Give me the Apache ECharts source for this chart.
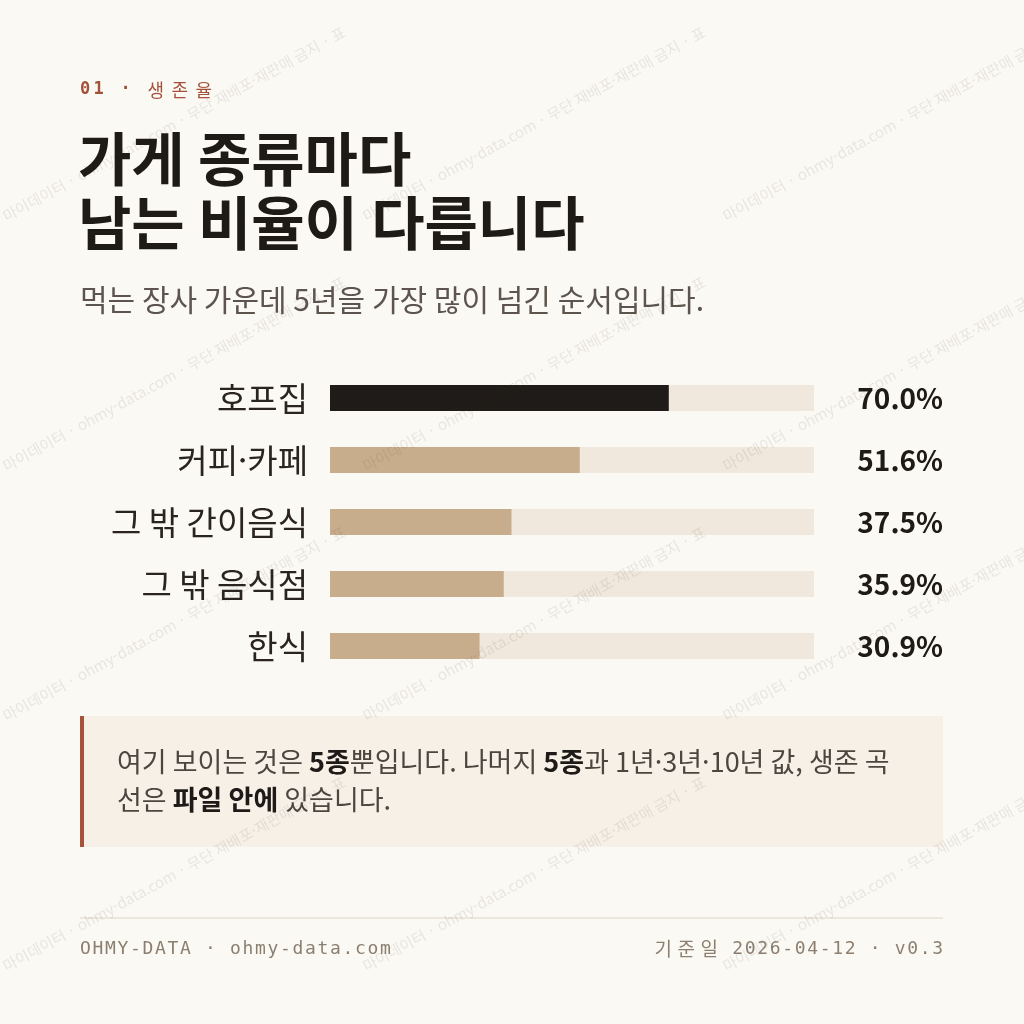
<!DOCTYPE html>
<html lang="ko">
<head>
<meta charset="utf-8">
<title>가게 종류마다 남는 비율이 다릅니다</title>
<script src="https://cdn.jsdelivr.net/npm/echarts@6/dist/echarts.min.js"></script>
<style>
  html, body { margin: 0; padding: 0; background: #fbf9f4; }
  #chart { width: 1024px; height: 1024px; }
</style>
</head>
<body>
<div id="chart"></div>
<script>
const categories = ['호프집', '커피·카페', '그 밖 간이음식', '그 밖 음식점', '한식'];
const survival5y = [70.0, 51.6, 37.5, 35.9, 30.9];
const valueLabels = survival5y.map((v) => v.toFixed(1) + '%');
const highlightCategory = '호프집';

const kicker = '01 · 생존율';
const titleLines = ['가게 종류마다', '남는 비율이 다릅니다'];
const subtitle = '먹는 장사 가운데 5년을 가장 많이 넘긴 순서입니다.';
const footerLeft = 'OHMY-DATA · ohmy-data.com';
const footerRight = '기준일 2026-04-12 · v0.3';
const watermarkText = '마이데이터 · ohmy-data.com · 무단 재배포·재판매 금지 · 표';

const sans = "'Noto Sans CJK KR', 'Noto Sans', sans-serif";
const mono = "'DejaVu Sans Mono', monospace";
const ink = '#1e1a17';

// one rich segment per character, so mono text keeps its letter spacing
const spaced = (str, latinKey, hangulKey) => Array.from(str)
    .map((ch) => `{${/[\uAC00-\uD7A3]/.test(ch) ? hangulKey : latinKey}|${ch}}`)
    .join('');

const watermarks = [];
for (let i = 0; i < 3; i++) {
    for (let j = -1; j < 5; j++) {
        watermarks.push({
            type: 'text',
            x: 360 * i + 4,
            y: 217 + 250 * j,
            rotation: Math.atan2(197, 360),
            silent: true,
            z: 100,
            style: {
                text: watermarkText,
                fill: 'rgba(70, 60, 50, 0.10)',
                fontSize: 15,
                fontFamily: sans,
                textVerticalAlign: 'middle',
            },
        });
    }
}

const chart = echarts.init(document.getElementById('chart'), null, { renderer: 'canvas' });

chart.setOption({
    backgroundColor: '#fbf9f4',
    animation: false,
    grid: { left: 330, right: 210, top: 367, height: 310 },
    xAxis: { type: 'value', min: 0, max: 100, show: false },
    yAxis: [
        {
            type: 'category',
            data: categories,
            inverse: true,
            axisLine: { show: false },
            axisTick: { show: false },
            axisLabel: { margin: 22, fontSize: 33, color: '#2a2420', fontFamily: sans },
        },
        {
            type: 'category',
            data: valueLabels,
            inverse: true,
            position: 'right',
            axisLine: { show: false },
            axisTick: { show: false },
            axisLabel: {
                margin: 129, align: 'right', fontSize: 28, fontWeight: 'bold',
                color: ink, fontFamily: sans,
            },
        },
    ],
    series: [{
        type: 'bar',
        yAxisIndex: 0,
        barWidth: 26,
        showBackground: true,
        backgroundStyle: { color: '#f0e8dc' },
        data: survival5y.map((v, i) => ({
            value: v,
            itemStyle: { color: categories[i] === highlightCategory ? '#1f1b18' : '#c8ad8c' },
        })),
    }],
    graphic: [
        {
            type: 'text', x: 80, y: 90,
            style: {
                text: spaced(kicker, 'k', 'kh'),
                textVerticalAlign: 'middle',
                rich: {
                    k: { fontFamily: mono, fontSize: 17, fontWeight: 'bold', fill: '#a4513a', width: 13.5 },
                    kh: { fontFamily: sans, fontSize: 18, fill: '#a4513a', width: 24 },
                },
            },
        },
        ...titleLines.map((line, i) => ({
            type: 'text', x: 78, y: 159 + 64 * i,
            style: {
                text: line, fill: ink, fontSize: 58, fontWeight: 'bold',
                fontFamily: sans, textVerticalAlign: 'middle',
            },
        })),
        {
            type: 'text', x: 80, y: 300,
            style: {
                text: subtitle, fill: '#5c544d', fontSize: 30,
                fontFamily: sans, textVerticalAlign: 'middle',
            },
        },
        { type: 'rect', shape: { x: 80, y: 716, width: 863, height: 131 }, style: { fill: '#f7f0e7' } },
        { type: 'rect', shape: { x: 80, y: 716, width: 4, height: 131 }, style: { fill: '#a5533b' } },
        {
            type: 'text', x: 117, y: 743,
            style: {
                text: '{n|여기 보이는 것은 }{b|5종}{n|뿐입니다. 나머지 }{b|5종}{n|과 1년·3년·10년 값, 생존 곡}\n'
                    + '{n|선은 }{b|파일 안에}{n| 있습니다.}',
                textVerticalAlign: 'top',
                rich: {
                    n: { fontFamily: sans, fontSize: 27, fill: '#4d4640', lineHeight: 38 },
                    b: { fontFamily: sans, fontSize: 27, fontWeight: 'bold', fill: ink, lineHeight: 38 },
                },
            },
        },
        { type: 'line', shape: { x1: 80, y1: 918, x2: 943, y2: 918 }, style: { stroke: '#e9e2d7', lineWidth: 1.5 } },
        {
            type: 'text', x: 80, y: 949,
            style: {
                text: spaced(footerLeft, 'f', 'fh'),
                textVerticalAlign: 'middle',
                rich: {
                    f: { fontFamily: mono, fontSize: 18, fill: '#8c7f70', width: 12.5 },
                    fh: { fontFamily: sans, fontSize: 19, fill: '#8c7f70', width: 23 },
                },
            },
        },
        {
            type: 'text', x: 943, y: 949,
            style: {
                text: spaced(footerRight, 'f', 'fh'),
                textAlign: 'right',
                textVerticalAlign: 'middle',
                rich: {
                    f: { fontFamily: mono, fontSize: 18, fill: '#8c7f70', width: 12.5 },
                    fh: { fontFamily: sans, fontSize: 19, fill: '#8c7f70', width: 23 },
                },
            },
        },
        ...watermarks,
    ],
});

window.addEventListener('resize', () => chart.resize());
</script>
</body>
</html>
